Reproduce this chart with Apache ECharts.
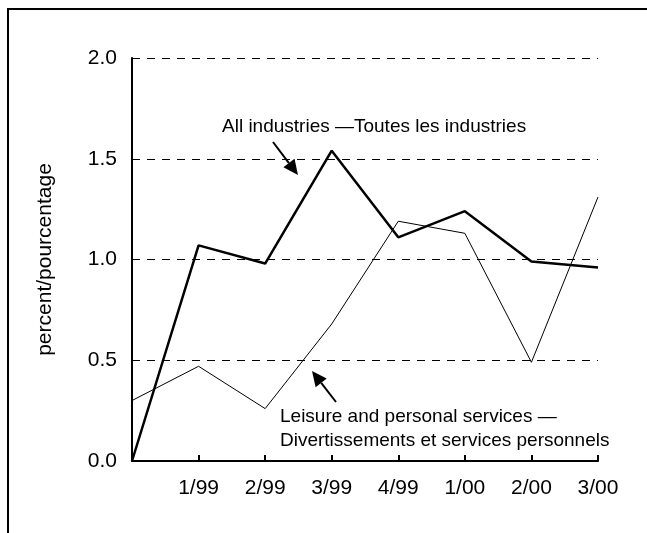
<!DOCTYPE html>
<html>
<head>
<meta charset="utf-8">
<script src="https://cdn.jsdelivr.net/npm/echarts@6/dist/echarts.min.js"></script>
<style>
html,body{margin:0;padding:0;background:#fff;}
#chart{width:647px;height:533px;}
</style>
</head>
<body>
<div id="chart"></div>
<script>
const categories = ['', '1/99', '2/99', '3/99', '4/99', '1/00', '2/00', '3/00'];
const allIndustries = [0.00, 1.07, 0.98, 1.54, 1.11, 1.24, 0.99, 0.96];
const leisure = [0.30, 0.47, 0.26, 0.68, 1.19, 1.13, 0.49, 1.31];
const yTicks = { min: 0, max: 2, interval: 0.5 };
const yName = 'percent/pourcentage';
const noteAll = 'All industries \u2014Toutes les industries';
const noteLeisure = 'Leisure and personal services \u2014\nDivertissements et services personnels';

const FONT = '"Liberation Sans", Arial, sans-serif';
const chart = echarts.init(document.getElementById('chart'), null, {renderer: 'canvas'});

function arrow(x1, y1, x2, y2) {
  const dx = x2 - x1, dy = y2 - y1;
  const len = Math.sqrt(dx*dx + dy*dy);
  const ux = dx/len, uy = dy/len;
  const hl = 15, hw = 7;
  const bx = x2 - ux*hl, by = y2 - uy*hl;
  return [
    {type: 'line', shape: {x1: x1, y1: y1, x2: bx, y2: by}, style: {stroke: '#000', lineWidth: 2}},
    {type: 'polygon', shape: {points: [[x2, y2], [bx - uy*hw, by + ux*hw], [bx + uy*hw, by - ux*hw]]}, style: {fill: '#000'}}
  ];
}

chart.setOption({
  animation: false,
  backgroundColor: '#fff',
  grid: {left: 132, right: 49, top: 58, bottom: 72, containLabel: false},
  xAxis: {
    type: 'category',
    data: categories,
    boundaryGap: false,
    axisLine: {lineStyle: {color: '#000', width: 2}},
    axisTick: {inside: true, length: 6, lineStyle: {color: '#000', width: 2}},
    axisLabel: {color: '#000', fontSize: 21, fontFamily: FONT, margin: 17, interval: 0},
    splitLine: {show: false}
  },
  yAxis: {
    type: 'value',
    min: yTicks.min, max: yTicks.max, interval: yTicks.interval,
    name: yName,
    nameLocation: 'middle',
    nameRotate: 90,
    nameGap: 76,
    nameTextStyle: {color: '#000', fontSize: 21, fontFamily: FONT},
    axisLine: {show: true, lineStyle: {color: '#000', width: 2}},
    axisTick: {show: false},
    axisLabel: {color: '#000', fontSize: 21, fontFamily: FONT, margin: 15, formatter: v => v.toFixed(1)},
    splitLine: {show: true, lineStyle: {color: '#000', width: 1, type: [8, 7]}}
  },
  series: [
    {type: 'line', data: allIndustries, symbol: 'none', lineStyle: {color: '#000', width: 2.5}, z: 3},
    {type: 'line', data: leisure, symbol: 'none', lineStyle: {color: '#000', width: 1}, z: 2}
  ],
  graphic: [
    {type: 'line', shape: {x1: 7, y1: 9, x2: 647, y2: 9}, style: {stroke: '#000', lineWidth: 2}},
    {type: 'line', shape: {x1: 8, y1: 9, x2: 8, y2: 533}, style: {stroke: '#000', lineWidth: 2}},
    {type: 'text', left: 222, top: 117, style: {text: noteAll, fill: '#000', font: '19px ' + FONT}},
    {type: 'text', left: 280, top: 405, style: {text: noteLeisure, fill: '#000', font: '19px ' + FONT, lineHeight: 24}},
    ...arrow(273, 142, 298, 175),
    ...arrow(336, 402, 312, 371)
  ]
});
</script>
</body>
</html>
